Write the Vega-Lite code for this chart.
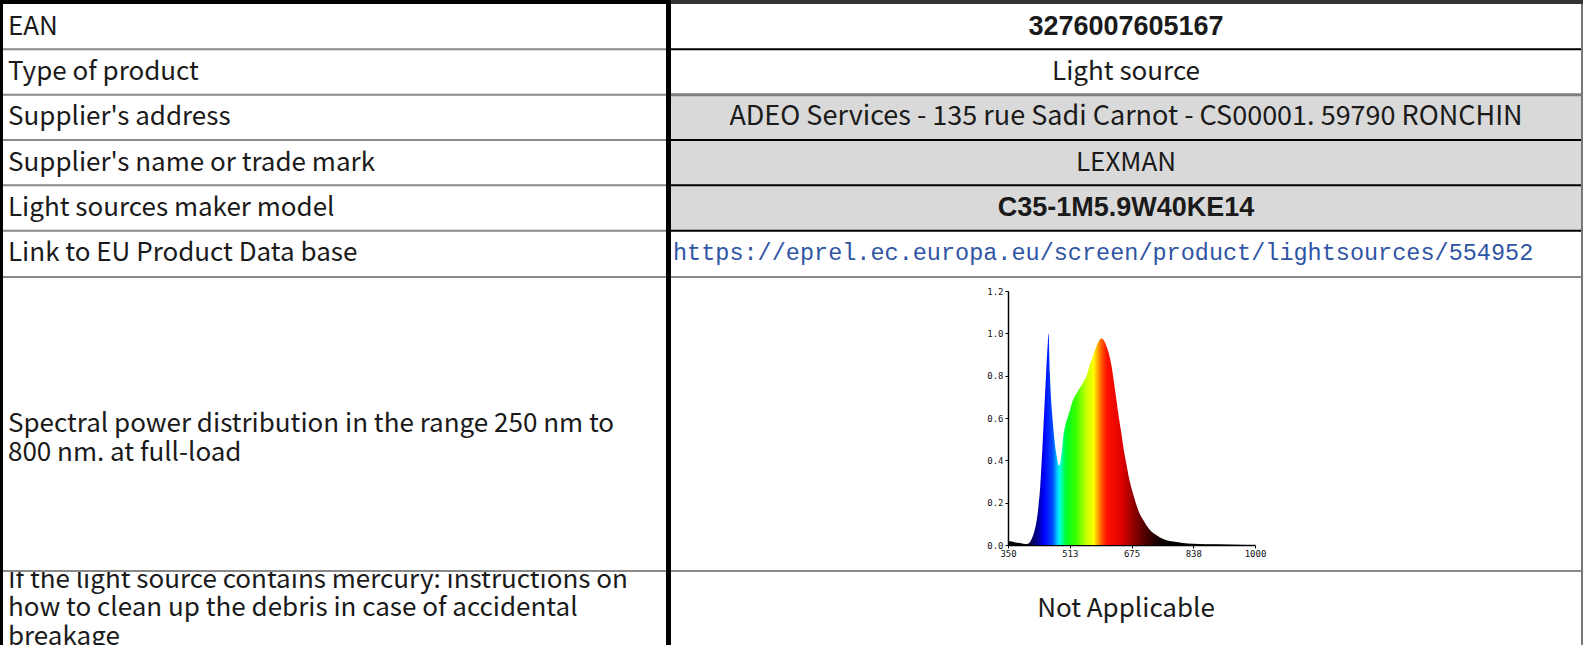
{
  "$schema": "https://vega.github.io/schema/vega-lite/v6.json",
  "background": "white",
  "padding": 0,
  "spacing": 0,
  "bounds": "full",
  "config": {
    "view": {"stroke": null},
    "concat": {"spacing": 0},
    "text": {"font": "Noto Sans CJK SC", "fontSize": 26, "color": "#1a1a1a"}
  },
  "datasets": {
    "rows": [
      {"field": "EAN", "value": "3276007605167"},
      {"field": "Type of product", "value": "Light source"},
      {"field": "Supplier's address", "value": "ADEO Services - 135 rue Sadi Carnot - CS00001. 59790 RONCHIN"},
      {"field": "Supplier's name or trade mark", "value": "LEXMAN"},
      {"field": "Light sources maker model", "value": "C35-1M5.9W40KE14"},
      {"field": "Link to EU Product Data base", "value": "https://eprel.ec.europa.eu/screen/product/lightsources/554952"}
    ],
    "spectrum": [
      {"nm": 350, "v": 0.019}, {"nm": 360, "v": 0.016}, {"nm": 370, "v": 0.012}, {"nm": 380, "v": 0.009},
      {"nm": 390, "v": 0.006}, {"nm": 400, "v": 0.005}, {"nm": 405, "v": 0.008}, {"nm": 410, "v": 0.02},
      {"nm": 415, "v": 0.04}, {"nm": 420, "v": 0.07}, {"nm": 425, "v": 0.11}, {"nm": 430, "v": 0.18},
      {"nm": 435, "v": 0.28}, {"nm": 440, "v": 0.44}, {"nm": 445, "v": 0.62}, {"nm": 450, "v": 0.8},
      {"nm": 455, "v": 0.96}, {"nm": 457, "v": 1.0}, {"nm": 460, "v": 0.82}, {"nm": 463, "v": 0.7},
      {"nm": 467, "v": 0.6}, {"nm": 472, "v": 0.5}, {"nm": 478, "v": 0.42}, {"nm": 484, "v": 0.375},
      {"nm": 488, "v": 0.39}, {"nm": 492, "v": 0.45}, {"nm": 496, "v": 0.52}, {"nm": 500, "v": 0.56},
      {"nm": 505, "v": 0.59}, {"nm": 510, "v": 0.62}, {"nm": 515, "v": 0.65}, {"nm": 520, "v": 0.68},
      {"nm": 530, "v": 0.715}, {"nm": 540, "v": 0.745}, {"nm": 550, "v": 0.775}, {"nm": 557, "v": 0.8},
      {"nm": 565, "v": 0.85}, {"nm": 570, "v": 0.874}, {"nm": 577, "v": 0.91}, {"nm": 583, "v": 0.94},
      {"nm": 590, "v": 0.965}, {"nm": 595, "v": 0.976}, {"nm": 600, "v": 0.972}, {"nm": 605, "v": 0.958},
      {"nm": 610, "v": 0.935}, {"nm": 616, "v": 0.9}, {"nm": 622, "v": 0.85}, {"nm": 628, "v": 0.78},
      {"nm": 635, "v": 0.69}, {"nm": 642, "v": 0.6}, {"nm": 649, "v": 0.52}, {"nm": 655, "v": 0.445},
      {"nm": 662, "v": 0.378}, {"nm": 668, "v": 0.32}, {"nm": 675, "v": 0.268}, {"nm": 682, "v": 0.225},
      {"nm": 688, "v": 0.189}, {"nm": 696, "v": 0.15}, {"nm": 706, "v": 0.118}, {"nm": 716, "v": 0.088},
      {"nm": 728, "v": 0.063}, {"nm": 740, "v": 0.047}, {"nm": 750, "v": 0.035}, {"nm": 765, "v": 0.024},
      {"nm": 785, "v": 0.016}, {"nm": 810, "v": 0.01}, {"nm": 837, "v": 0.006}, {"nm": 870, "v": 0.004},
      {"nm": 900, "v": 0.003}, {"nm": 950, "v": 0.001}, {"nm": 1000, "v": 0.0}
    ]
  },
  "vconcat": [
    {
      "spacing": 0, "bounds": "flush",
      "hconcat": [
        {"width": 3, "height": 4, "data": {"values": [{}]}, "mark": {"type": "rect", "opacity": 0}, "view": {"fill": "#000000"}},
        {"width": 663, "height": 4, "data": {"values": [{}]}, "mark": {"type": "rect", "opacity": 0}, "view": {"fill": "#000000"}},
        {"width": 5, "height": 4, "data": {"values": [{}]}, "mark": {"type": "rect", "opacity": 0}, "view": {"fill": "#000000"}},
        {"width": 910, "height": 4, "data": {"values": [{}]}, "mark": {"type": "rect", "opacity": 0}, "view": {"fill": "#333333"}},
        {"width": 2, "height": 4, "data": {"values": [{}]}, "mark": {"type": "rect", "opacity": 0}, "view": {"fill": "#333333"}}
      ]
    },
    {
      "spacing": 0, "bounds": "flush",
      "hconcat": [
        {"width": 3, "height": 272, "data": {"values": [{}]}, "mark": {"type": "rect", "opacity": 0}, "view": {"fill": "#000000"}},
        {
          "width": 663, "height": 272,
          "data": {"name": "rows"},
          "encoding": {
            "y": {"field": "field", "type": "nominal", "axis": null,
                  "sort": ["EAN", "Type of product", "Supplier's address", "Supplier's name or trade mark", "Light sources maker model", "Link to EU Product Data base"],
                  "scale": {"paddingInner": 0, "paddingOuter": 0}}
          },
          "layer": [
            {
              "mark": {"type": "rule", "color": "#8a8a8a", "strokeWidth": 2},
              "encoding": {
                "y": {"field": "field", "type": "nominal", "bandPosition": 0,
                      "sort": ["EAN", "Type of product", "Supplier's address", "Supplier's name or trade mark", "Light sources maker model", "Link to EU Product Data base"]},
                "strokeOpacity": {"condition": {"test": "datum.field === 'EAN'", "value": 0}, "value": 1}
              }
            },
            {
              "mark": {"type": "text", "align": "left", "baseline": "middle"},
              "encoding": {"x": {"value": 5}, "text": {"field": "field"}}
            }
          ]
        },
        {"width": 5, "height": 272, "data": {"values": [{}]}, "mark": {"type": "rect", "opacity": 0}, "view": {"fill": "#000000"}},
        {
          "width": 910, "height": 272,
          "data": {"name": "rows"},
          "encoding": {
            "y": {"field": "field", "type": "nominal", "axis": null,
                  "sort": ["EAN", "Type of product", "Supplier's address", "Supplier's name or trade mark", "Light sources maker model", "Link to EU Product Data base"],
                  "scale": {"paddingInner": 0, "paddingOuter": 0}}
          },
          "layer": [
            {
              "mark": {"type": "rect"},
              "encoding": {
                "color": {"condition": {"test": "indexof([\"Supplier's address\", \"Supplier's name or trade mark\", \"Light sources maker model\"], datum.field) >= 0", "value": "#d9d9d9"}, "value": "#ffffff"}
              }
            },
            {
              "mark": {"type": "rule"},
              "encoding": {
                "y": {"field": "field", "type": "nominal", "bandPosition": 0,
                      "sort": ["EAN", "Type of product", "Supplier's address", "Supplier's name or trade mark", "Light sources maker model", "Link to EU Product Data base"]},
                "color": {"condition": {"test": "datum.field === \"Supplier's address\"", "value": "#7f7f7f"}, "value": "#000000"},
                "strokeWidth": {"condition": {"test": "datum.field === \"Supplier's address\"", "value": 3}, "value": 2},
                "strokeOpacity": {"condition": {"test": "datum.field === 'EAN'", "value": 0}, "value": 1}
              }
            },
            {
              "transform": [{"filter": "datum.field === 'Type of product' || datum.field === \"Supplier's name or trade mark\""}],
              "mark": {"type": "text", "baseline": "middle"},
              "encoding": {"text": {"field": "value"}}
            },
            {
              "transform": [{"filter": "datum.field === \"Supplier's address\""}],
              "mark": {"type": "text", "baseline": "middle", "fontSize": 27},
              "encoding": {"text": {"field": "value"}}
            },
            {
              "transform": [{"filter": "datum.field === 'EAN' || datum.field === 'Light sources maker model'"}],
              "mark": {"type": "text", "baseline": "middle", "font": "Liberation Sans", "fontWeight": "bold", "fontSize": 27},
              "encoding": {"text": {"field": "value"}}
            },
            {
              "transform": [{"filter": "datum.field === 'Link to EU Product Data base'"}],
              "mark": {"type": "text", "align": "left", "baseline": "middle", "font": "Liberation Mono", "fontSize": 23.5, "color": "#2f55a4"},
              "encoding": {"x": {"value": 2}, "text": {"field": "value"}}
            }
          ]
        },
        {"width": 2, "height": 272, "data": {"values": [{}]}, "mark": {"type": "rect", "opacity": 0}, "view": {"fill": "#777777"}}
      ]
    },
    {
      "spacing": 0, "bounds": "flush",
      "hconcat": [
        {"width": 3, "height": 2, "data": {"values": [{}]}, "mark": {"type": "rect", "opacity": 0}, "view": {"fill": "#000000"}},
        {"width": 663, "height": 2, "data": {"values": [{}]}, "mark": {"type": "rect", "opacity": 0}, "view": {"fill": "#8a8a8a"}},
        {"width": 5, "height": 2, "data": {"values": [{}]}, "mark": {"type": "rect", "opacity": 0}, "view": {"fill": "#000000"}},
        {"width": 910, "height": 2, "data": {"values": [{}]}, "mark": {"type": "rect", "opacity": 0}, "view": {"fill": "#8a8a8a"}},
        {"width": 2, "height": 2, "data": {"values": [{}]}, "mark": {"type": "rect", "opacity": 0}, "view": {"fill": "#777777"}}
      ]
    },
    {
      "spacing": 0, "bounds": "flush",
      "hconcat": [
        {"width": 3, "height": 292, "data": {"values": [{}]}, "mark": {"type": "rect", "opacity": 0}, "view": {"fill": "#000000"}},
        {
          "width": 663, "height": 292,
          "data": {"values": [{"label": "Spectral power distribution in the range 250 nm to\n800 nm. at full-load"}]},
          "mark": {"type": "text", "align": "left", "baseline": "middle", "lineBreak": "\n", "lineHeight": 28.5},
          "encoding": {"x": {"value": 5}, "text": {"field": "label"}}
        },
        {"width": 5, "height": 292, "data": {"values": [{}]}, "mark": {"type": "rect", "opacity": 0}, "view": {"fill": "#000000"}},
        {
          "width": 910, "height": 292,
          "data": {"name": "spectrum"},
          "mark": {
            "type": "area", "interpolate": "monotone",
            "color": {
              "gradient": "linear", "x1": 0, "y1": 0, "x2": 1, "y2": 0,
              "stops": [
                {"offset": 0, "color": "#000000"},
                {"offset": 0.077, "color": "#0a0018"},
                {"offset": 0.123, "color": "#0000a0"},
                {"offset": 0.146, "color": "#0000ff"},
                {"offset": 0.182, "color": "#0050ff"},
                {"offset": 0.2, "color": "#00d0ff"},
                {"offset": 0.211, "color": "#00ffe0"},
                {"offset": 0.223, "color": "#00ff80"},
                {"offset": 0.238, "color": "#00ff20"},
                {"offset": 0.277, "color": "#40ff00"},
                {"offset": 0.315, "color": "#c0ff00"},
                {"offset": 0.346, "color": "#ffff00"},
                {"offset": 0.362, "color": "#ffb000"},
                {"offset": 0.377, "color": "#ff6000"},
                {"offset": 0.4, "color": "#ff1000"},
                {"offset": 0.462, "color": "#e00000"},
                {"offset": 0.508, "color": "#900000"},
                {"offset": 0.554, "color": "#500000"},
                {"offset": 0.615, "color": "#100000"},
                {"offset": 0.66, "color": "#000000"},
                {"offset": 1, "color": "#000000"}
              ]
            }
          },
          "encoding": {
            "x": {
              "field": "nm", "type": "quantitative",
              "scale": {"domain": [350, 1000], "range": [337, 584], "nice": false, "zero": false},
              "axis": {"title": null, "grid": false, "offset": -25, "values": [350, 512.5, 675, 837.5, 1000], "format": ".0f",
                       "domainColor": "#000000", "domainWidth": 1.5, "tickColor": "#000000", "tickSize": 3,
                       "labelFont": "DejaVu Sans Mono", "labelFontSize": 9, "labelColor": "#111111", "labelPadding": 1,
                       "labelFlush": false, "labelOverlap": false}
            },
            "y": {
              "field": "v", "type": "quantitative",
              "scale": {"domain": [0, 1.2], "range": [267, 13], "nice": false},
              "axis": {"title": null, "grid": false, "offset": -337, "values": [0, 0.2, 0.4, 0.6, 0.8, 1.0, 1.2], "format": ".1f",
                       "domainColor": "#000000", "domainWidth": 1.5, "tickColor": "#000000", "tickSize": 3,
                       "labelFont": "DejaVu Sans Mono", "labelFontSize": 9, "labelColor": "#111111", "labelPadding": 2,
                       "labelFlush": false, "labelOverlap": false}
            }
          }
        },
        {"width": 2, "height": 292, "data": {"values": [{}]}, "mark": {"type": "rect", "opacity": 0}, "view": {"fill": "#777777"}}
      ]
    },
    {
      "spacing": 0, "bounds": "flush",
      "hconcat": [
        {"width": 3, "height": 2, "data": {"values": [{}]}, "mark": {"type": "rect", "opacity": 0}, "view": {"fill": "#000000"}},
        {"width": 663, "height": 2, "data": {"values": [{}]}, "mark": {"type": "rect", "opacity": 0}, "view": {"fill": "#8a8a8a"}},
        {"width": 5, "height": 2, "data": {"values": [{}]}, "mark": {"type": "rect", "opacity": 0}, "view": {"fill": "#000000"}},
        {"width": 910, "height": 2, "data": {"values": [{}]}, "mark": {"type": "rect", "opacity": 0}, "view": {"fill": "#8a8a8a"}},
        {"width": 2, "height": 2, "data": {"values": [{}]}, "mark": {"type": "rect", "opacity": 0}, "view": {"fill": "#777777"}}
      ]
    },
    {
      "spacing": 0, "bounds": "flush",
      "hconcat": [
        {"width": 3, "height": 73, "data": {"values": [{}]}, "mark": {"type": "rect", "opacity": 0}, "view": {"fill": "#000000"}},
        {
          "width": 663, "height": 73,
          "data": {"values": [{"label": "If the light source contains mercury: instructions on\nhow to clean up the debris in case of accidental\nbreakage"}]},
          "mark": {"type": "text", "align": "left", "baseline": "middle", "lineBreak": "\n", "lineHeight": 28.5, "dy": -29, "clip": true},
          "encoding": {"x": {"value": 5}, "text": {"field": "label"}}
        },
        {"width": 5, "height": 73, "data": {"values": [{}]}, "mark": {"type": "rect", "opacity": 0}, "view": {"fill": "#000000"}},
        {
          "width": 910, "height": 73,
          "data": {"values": [{"label": "Not Applicable"}]},
          "mark": {"type": "text", "baseline": "middle"},
          "encoding": {"text": {"field": "label"}}
        },
        {"width": 2, "height": 73, "data": {"values": [{}]}, "mark": {"type": "rect", "opacity": 0}, "view": {"fill": "#777777"}}
      ]
    }
  ]
}
